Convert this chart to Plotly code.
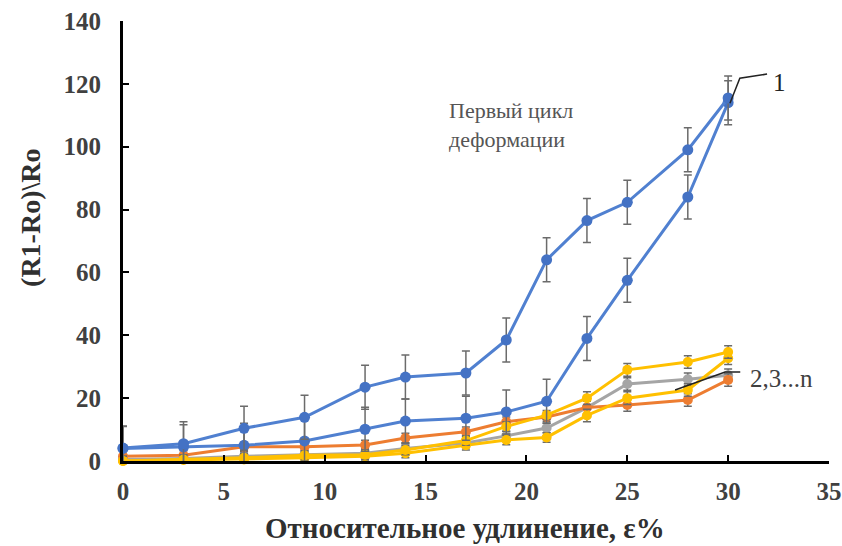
import plotly.graph_objects as go

# ---- data ----
strain = [0, 3, 6, 9, 12, 14, 17, 19, 21, 23, 25, 28, 30]

cycle1_load = [4.0, 4.5, 5.0, 6.4, 10.1, 12.7, 13.6, 15.6, 19.0, 39.0, 57.5, 84.0, 114.0]
cycle1_unload = [4.1, 5.5, 10.4, 13.9, 23.5, 26.7, 28.0, 38.5, 64.0, 76.5, 82.3, 99.0, 115.5]
cycle1_err = [7, 7, 7, 7, 7, 7, 7, 7, 7, 7, 7, 7, 7]

orange_vals = [1.5, 1.8, 4.5, 4.5, 5.1, 7.3, 9.3, 12.5, 14.0, 17.0, 17.8, 19.4, 25.8]
gray_vals = [0.5, 0.8, 1.5, 2.0, 2.5, 4.0, 5.7, 8.0, 10.5, 17.0, 24.5, 26.0, 27.3]
yellow_up = [0.0, 0.5, 1.0, 1.8, 2.0, 3.5, 6.5, 11.0, 14.6, 20.0, 29.0, 31.5, 34.7]
yellow_low = [0.0, 0.3, 0.5, 1.0, 1.5, 2.5, 5.0, 6.7, 7.5, 14.5, 20.0, 22.6, 32.7]
small_err = [1.5, 1.5, 1.5, 1.5, 1.5, 1.5, 1.5, 1.5, 1.5, 2, 2, 2, 2]

x_ticks = [0, 5, 10, 15, 20, 25, 30, 35]
y_ticks = [0, 20, 40, 60, 80, 100, 120, 140]

# leader lines for the curve labels (data coordinates)
lead1_x = [30.09, 30.58, 31.93]
lead1_y = [113.8, 121.8, 123.1]
lead2_x = [27.37, 29.85, 30.6]
lead2_y = [22.6, 28.3, 28.3]

BLUE = "#4472C4"
BLUE_LINE = "#5080D0"
ORANGE = "#ED7D31"
GRAY = "#A5A5A5"
YELLOW = "#FFC000"
ERR = "#6b6b6b"
SERIF = "Liberation Serif"

fig = go.Figure()


def add_series(y, color, err, line_color=None, width=3, size=10):
    fig.add_trace(go.Scatter(
        x=strain, y=y, mode="lines+markers",
        line=dict(color=line_color or color, width=width),
        marker=dict(color=color, size=size, symbol="circle"),
        error_y=dict(type="data", array=err, visible=True, color=ERR,
                     thickness=1.5, width=4),
        cliponaxis=False, showlegend=False))


add_series(gray_vals, GRAY, small_err)
add_series(orange_vals, ORANGE, small_err)
add_series(yellow_low, YELLOW, small_err)
add_series(yellow_up, YELLOW, small_err)
add_series(cycle1_load, BLUE, cycle1_err, BLUE_LINE, size=11)
add_series(cycle1_unload, BLUE, cycle1_err, BLUE_LINE, size=11)

for lx, ly in ((lead1_x, lead1_y), (lead2_x, lead2_y)):
    fig.add_trace(go.Scatter(x=lx, y=ly, mode="lines",
                             line=dict(color="#222222", width=1.5),
                             cliponaxis=False, showlegend=False,
                             hoverinfo="skip"))

tickfont = dict(family=SERIF, size=25, color="#404040", weight="bold")

fig.update_layout(
    width=842, height=546,
    margin=dict(l=123, r=13, t=21, b=85, autoexpand=False),
    paper_bgcolor="white", plot_bgcolor="white",
    showlegend=False,
    xaxis=dict(range=[0, 35], tickvals=x_ticks, ticktext=[str(v) for v in x_ticks],
               showgrid=False, zeroline=False, showline=True, linecolor="black",
               linewidth=3, ticks="inside", ticklen=6, tickwidth=2, tickcolor="black",
               tickfont=tickfont, ticklabelstandoff=6, ticklabeloverflow="allow"),
    yaxis=dict(range=[0, 140], tickvals=y_ticks, ticktext=[str(v) for v in y_ticks],
               showgrid=False, zeroline=False, showline=True, linecolor="black",
               linewidth=3, ticks="inside", ticklen=6, tickwidth=2, tickcolor="black",
               tickfont=tickfont, ticklabelstandoff=14, ticklabeloverflow="allow"),
    annotations=[
        dict(text="Относительное удлинение, ε%", xref="paper", yref="paper",
             x=0.484, y=-0.152, xanchor="center", yanchor="middle", showarrow=False,
             font=dict(family=SERIF, size=29, color="#303030", weight="bold")),
        dict(text="(R1-Ro)\\Ro", xref="paper", yref="paper",
             x=-0.132, y=0.552, xanchor="center", yanchor="middle", showarrow=False,
             textangle=-90,
             font=dict(family=SERIF, size=28, color="#303030", weight="bold")),
        dict(text="Первый цикл<br>деформации", xref="x", yref="y",
             x=16.06, y=107.0, xanchor="left", yanchor="middle", align="left",
             showarrow=False,
             font=dict(family=SERIF, size=22, color="#555555")),
        dict(text="1", xref="x", yref="y", x=32.1, y=120.5, xanchor="left",
             yanchor="middle", showarrow=False,
             font=dict(family=SERIF, size=25, color="#222222")),
        dict(text="2,3...n", xref="x", yref="y", x=31.0, y=26.4, xanchor="left",
             yanchor="middle", showarrow=False,
             font=dict(family=SERIF, size=25, color="#404040")),
    ],
)

# remove the default 8px page margin so the figure fills the window exactly
fig.write_html("out.html",
               config={"displayModeBar": False},
               post_script="document.body.style.margin='0';"
                           "document.body.style.overflow='hidden';")
